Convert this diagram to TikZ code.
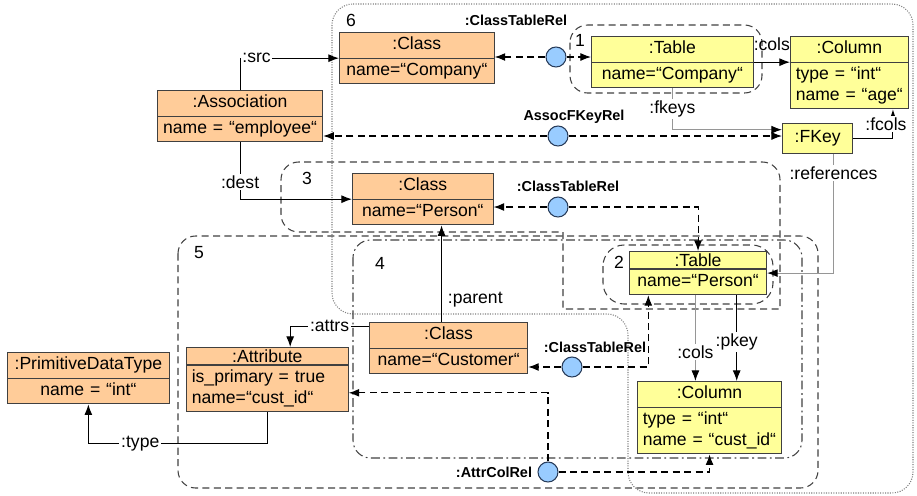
\documentclass[tikz,border=0pt]{standalone}
\usepackage{fontspec}
\setmainfont{Liberation Sans}
\usetikzlibrary{arrows.meta,shapes.multipart}

\definecolor{clsfill}{RGB}{255,204,153}
\definecolor{tblfill}{RGB}{255,255,153}
\definecolor{relfill}{RGB}{153,204,255}
\definecolor{relline}{RGB}{40,60,90}
\definecolor{boxline}{RGB}{64,64,64}
\definecolor{grayline}{RGB}{150,150,150}

\begin{document}
\begin{tikzpicture}[x=0.02cm,y=-0.02cm,
  font=\fontsize{10}{12}\selectfont,
  obj/.style={rectangle split,rectangle split parts=2,draw=boxline,line width=0.6pt,
    inner xsep=3pt,inner ysep=1pt,align=center,anchor=north west},
  cls/.style={obj,fill=clsfill},
  tbl/.style={obj,fill=tblfill},
  rel/.style={circle,draw=relline,fill=relfill,line width=0.6pt,minimum size=0.4cm,inner sep=0pt},
  rellabel/.style={font=\fontsize{8.2}{10}\selectfont\bfseries},
  lbl/.style={fill=white,inner sep=1pt},
  link/.style={draw=black,line width=0.6pt,-{Latex[length=6pt,width=4.5pt]}},
  graylink/.style={draw=grayline,line width=0.6pt,-{Latex[length=6pt,width=4.5pt,color=black]}},
  rellink/.style={link,dash pattern=on 4pt off 2.5pt},
  grpdash/.style={draw=boxline,line width=0.6pt,dash pattern=on 4pt off 2.5pt},
  grpdashdot/.style={draw=boxline,line width=0.6pt,dash pattern=on 5pt off 2pt on 1pt off 2pt,rounded corners=10pt},
  grpdot/.style={draw=gray,line width=0.6pt,dash pattern=on 0.6pt off 0.8pt,rounded corners=12pt}]
  \useasboundingbox (0,0) rectangle (917,495);

  % Grupper
  \draw[grpdot] (332,4) -- (913,4) -- (913,493) -- (628,493) -- (628,314) -- (332,314) -- cycle;
  \draw[grpdash,rounded corners=10pt] (570,25) rectangle (762,93);
  \draw[grpdash,rounded corners=12pt] (603,245) rectangle (773,304);
  \draw[grpdash] (420,232) [rounded corners=10pt] -- (281,232) -- (281,162) -- (780,162)
    -- (780,200) [sharp corners] -- (780,309) -- (563,309) -- (563,232) -- cycle;
  \draw[grpdashdot] (353,240) rectangle (802,458);
  \draw[grpdash,rounded corners=10pt] (178,236) rectangle (818,488);
  \foreach \n/\x/\y in {6/351/20,1/580/40,3/307/178,5/199/253,4/380/263,2/619/262}
    \node (g\n) at (\x,\y) {\n};

  % Klasser
  \node[cls,text width=82pt] (clsCompany) at (339,32)
    {\strut:Class\nodepart{two}\strut name=“Company“};
  \node[cls,text width=88pt] (assoc) at (157,90)
    {\strut:Association\nodepart{two}\strut name = “employee“};
  \node[cls,text width=74pt] (clsPerson) at (352,173)
    {\strut:Class\nodepart{two}\strut name=“Person“};
  \node[cls,text width=84pt] (clsCustomer) at (369,322)
    {\strut:Class\nodepart{two}\strut name=“Customer“};
  \node[cls,text width=86pt,align=left] (attr) at (186,347)
    {\hbox to\hsize{\hfil:Attribute\hfil}\nodepart{two}\strut is\_primary = true\\\strut name=“cust\_id“};
  \node[cls,text width=86pt] (pdt) at (7,352)
    {\strut:PrimitiveDataType\nodepart{two}\strut name = “int“};

  % Tabeller
  \node[tbl,text width=86pt] (tblCompany) at (591,36)
    {\strut:Table\nodepart{two}\strut name=“Company“};
  \node[tbl,text width=61pt,align=left] (colAge) at (790,36)
    {\hbox to\hsize{\hfil\strut:Column\hfil}\nodepart{two}\strut type = “int“\\\strut name = “age“};
  \node[draw=boxline,fill=tblfill,line width=0.6pt,minimum width=40pt,minimum height=17pt,
    anchor=north west] (fkey) at (782,123) {:FKey};
  \node[tbl,text width=72pt] (tblPerson) at (629,251)
    {:Table\nodepart{two}\strut name=“Person“};
  \node[tbl,text width=76pt,align=left] (colCust) at (637,381)
    {\hbox to\hsize{\hfil\strut:Column\hfil}\nodepart{two}\strut type = “int“\\\strut name = “cust\_id“};

  % Relationer
  \node[rel] (ctrA) at (556,57) {};
  \node[rel] (afk) at (558,136) {};
  \node[rel] (ctrB) at (558,207) {};
  \node[rel] (ctrC) at (572,367) {};
  \node[rel] (acr) at (548,472) {};
  \node[rellabel] (lblA) at (516,20) {:ClassTableRel};
  \node[rellabel] (lblAfk) at (574,117) {AssocFKeyRel};
  \node[rellabel] (lblB) at (568,186) {:ClassTableRel};
  \node[rellabel] (lblC) at (595,347) {:ClassTableRel};
  \node[rellabel] (lblAcr) at (494,472) {:AttrColRel};

  \draw[rellink] (ctrA) -- (clsCompany.east |- ctrA);
  \draw[rellink] (ctrA) -- (tblCompany.west |- ctrA);
  \draw[rellink] (afk) -- (assoc.east |- afk);
  \draw[rellink] (afk) -- (fkey.west |- afk);
  \draw[rellink] (ctrB) -- (clsPerson.east |- ctrB);
  \draw[rellink] (ctrB) -| (tblPerson.north);
  \draw[rellink] (ctrC) -- (clsCustomer.east |- ctrC);
  \draw[rellink] (ctrC) -| ([xshift=11pt]tblPerson.south west);
  \draw[rellink] (acr) |- ([yshift=-7.5pt]attr.east);
  \draw[rellink] (acr) -| (colCust.south);

  % Kopplingar
  \draw[link] (assoc.north) |- (clsCompany.west) node[pos=0.5,anchor=west,lbl]{:src};
  \draw[link] (assoc.south) |- (clsPerson.west) node[pos=0.35,lbl]{:dest};
  \draw[link] (tblCompany.east) -- (tblCompany.east -| colAge.west)
    node[midway,above,yshift=3pt]{:cols};
  \draw[graylink] (tblCompany.south) |- ([yshift=5pt]fkey.west) node[pos=0.25,lbl]{:fkeys};
  \draw[link] (fkey.east) -| ([xshift=-9pt]colAge.south east)
    node[pos=0.75,lbl,xshift=-4pt]{:fcols};
  \draw[graylink] ([xshift=9pt]fkey.south) |- (tblPerson.east) node[pos=0.08,lbl]{:references};
  \draw[graylink] ([xshift=-1.5pt]tblPerson.south) -- ([xshift=-1.5pt]tblPerson.south |- colCust.north)
    node[pos=0.66,lbl]{:cols};
  \draw[link] ([xshift=22pt]tblPerson.south) -- ([xshift=22pt]tblPerson.south |- colCust.north)
    node[pos=0.55,lbl]{:pkey};
  \draw[link] ([xshift=-4pt]clsCustomer.north) -- ([xshift=-4pt]clsCustomer.north |- clsPerson.south)
    node[pos=0.23,anchor=west]{:parent};
  \draw[link] ([yshift=12.5pt]clsCustomer.west) -| ([xshift=13pt]attr.north) node[pos=0.25,lbl]{:attrs};
  \draw[link] (attr.south) -- ++(0,31) -| (pdt.south) node[pos=0.355,lbl]{:type};
\end{tikzpicture}
\end{document}
